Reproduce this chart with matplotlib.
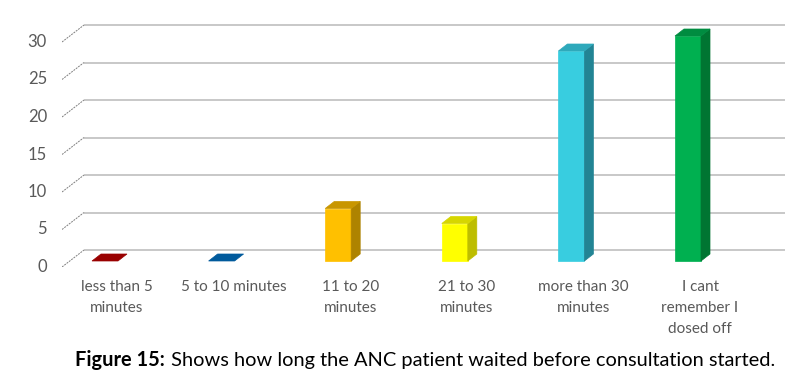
import matplotlib
matplotlib.use("Agg")
import matplotlib.pyplot as plt
from matplotlib.patches import Polygon

categories = ["less than 5\nminutes", "5 to 10 minutes", "11 to 20\nminutes",
              "21 to 30\nminutes", "more than 30\nminutes", "I cant\nremember I\ndosed off"]
values = [0, 0, 7, 5, 28, 30]
front_colors = ["#990000", "#005a9c", "#ffc000", "#ffff00", "#38cde0", "#00b050"]
side_colors = ["#6e0000", "#003f6e", "#ae8300", "#bdbd00", "#228494", "#007532"]
top_colors = ["#b00000", "#0a6cb5", "#c89600", "#d6d600", "#2ea9bb", "#008c40"]
yticks = [0, 5, 10, 15, 20, 25, 30]
caption_bold = "Figure 15:"
caption_rest = " Shows how long the ANC patient waited before consultation started."

W, H = 785, 379
fig = plt.figure(figsize=(W / 100, H / 100), dpi=100)
fig.patch.set_facecolor("white")
ax = fig.add_axes([62 / W, (H - 267) / H, (785 - 62) / W, (267 - 20) / H])
ax.axis("off")
ppx = 116.6   # pixels per category
ppy = 7.5     # pixels per unit
xl, xr = (62 - 105) / ppx, (785 - 105) / ppx
ax.set_xlim(xl, xr)
ax.set_ylim((261 - 267) / ppy, (261 - 20) / ppy)

# back wall gridlines and diagonal connectors
bx = xl + 22 / ppx
for v in yticks:
    yb = v + 11 / ppy
    yf = v - 6 / ppy
    ax.plot([bx, xr], [yb, yb], color="#c4c4c4", lw=1.3, solid_capstyle="butt", zorder=1)
    ax.plot([xl, bx], [yf, yb], color="#7f7f7f", lw=0.7, ls=(0, (2, 1)), zorder=1)
    ax.text((47 - 105) / ppx, yf, str(v), ha="right", va="center",
            fontsize=12, color="#595959", family="Lato", clip_on=False)

# 3D bars
bw = 26 / ppx
ddx, ddy = 9 / ppx, 7 / ppy
for i, (v, fc, sc, tc) in enumerate(zip(values, front_colors, side_colors, top_colors)):
    x0, x1 = i - bw / 2, i + bw / 2
    if v > 0:
        ax.add_patch(Polygon([(x0, 0), (x1, 0), (x1, v), (x0, v)], closed=True,
                             facecolor=fc, edgecolor=fc, lw=0.5, zorder=3))
        ax.add_patch(Polygon([(x1, 0), (x1 + ddx, ddy), (x1 + ddx, v + ddy), (x1, v)],
                             closed=True, facecolor=sc, edgecolor=sc, lw=0.5, zorder=3))
    ax.add_patch(Polygon([(x0, v), (x1, v), (x1 + ddx, v + ddy), (x0 + ddx, v + ddy)],
                         closed=True, facecolor=tc if v > 0 else fc,
                         edgecolor=tc if v > 0 else fc, lw=0.5, zorder=4))

# category labels
for i, lab in enumerate(categories):
    ax.text(i + 12 / ppx, (261 - 280) / ppy, lab, ha="center", va="top",
            fontsize=11, color="#595959", family="Lato", linespacing=1.62, clip_on=False)

# caption
t1 = fig.text(75 / W, (H - 366) / H, caption_bold, fontsize=14.4, fontweight="bold",
              family="Lato", color="black", ha="left", va="baseline")
fig.canvas.draw()
bb = t1.get_window_extent()
fig.text(bb.x1 / W + 1 / W, (H - 366) / H, caption_rest, fontsize=14.4,
         family="Lato", color="black", ha="left", va="baseline")

fig.savefig("out.png", dpi=100, facecolor="white")
